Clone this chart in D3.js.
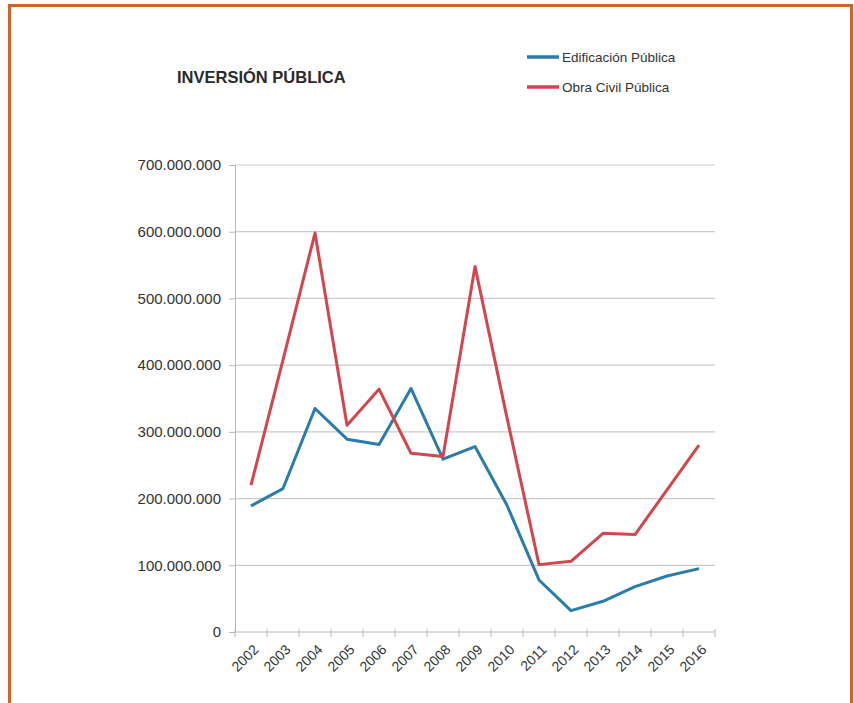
<!DOCTYPE html>
<html>
<head>
<meta charset="utf-8">
<script src="https://cdn.jsdelivr.net/npm/d3@7"></script>
<style>
    body { margin: 0; background: #fff; }
    svg { display: block; }
</style>
</head>
<body>
<div id="chart"></div>
<script>
// data
const years = ["2002", "2003", "2004", "2005", "2006", "2007", "2008", "2009",
    "2010", "2011", "2012", "2013", "2014", "2015", "2016"];
const edificacion = [189e6, 215e6, 335e6, 289e6, 281e6, 365e6, 259e6, 278e6,
    190e6, 78e6, 32e6, 46e6, 68e6, 84e6, 95e6];
const obraCivil = [220e6, 408e6, 598e6, 310e6, 364e6, 268e6, 263e6, 548e6,
    321e6, 101e6, 106e6, 148e6, 146e6, 213e6, 280e6];
const yTicks = [0, 100e6, 200e6, 300e6, 400e6, 500e6, 600e6, 700e6];
const seriesNames = ["Edificación Pública", "Obra Civil Pública"];
const seriesColors = ["#2b7cab", "#d2464f"];

const width = 854, height = 703;
const plotLeft = 235, plotRight = 715, plotTop = 165, plotBottom = 632;

const svg = d3.select("#chart").append("svg")
    .attr("width", width)
    .attr("height", height);

// orange frame
svg.append("rect")
    .attr("x", 9.5).attr("y", 5.5)
    .attr("width", 842).attr("height", 720)
    .attr("fill", "none")
    .attr("stroke", "#cf6529")
    .attr("stroke-width", 3);

const x = d3.scaleBand().domain(years).range([plotLeft, plotRight]);
const y = d3.scaleLinear().domain([0, 700e6]).range([plotBottom, plotTop]);

const fmt = v => v === 0 ? "0" : d3.format(",")(v).replace(/,/g, ".");

// gridlines
svg.append("g")
    .selectAll("line")
    .data(yTicks.filter(d => d > 0))
    .enter().append("line")
    .attr("x1", plotLeft).attr("x2", plotRight)
    .attr("y1", d => y(d)).attr("y2", d => y(d))
    .attr("stroke", "#cbcbcb")
    .attr("stroke-width", 1.2);

// y axis
let yAxis = svg.append("g")
    .attr("transform", "translate(" + plotLeft + ",0)")
    .call(d3.axisLeft(y).tickValues(yTicks).tickFormat(fmt).tickSize(6).tickPadding(8));
yAxis.select(".domain").attr("stroke", "#b8b8b8");
yAxis.selectAll(".tick line").attr("stroke", "#b8b8b8");
yAxis.selectAll("text")
    .attr("font-family", "Liberation Sans, Arial, sans-serif")
    .attr("font-size", 15)
    .attr("fill", "#333");

// x axis, ticks between categories
let xAxis = svg.append("g")
    .attr("transform", "translate(0," + plotBottom + ")");
xAxis.append("line")
    .attr("x1", plotLeft).attr("x2", plotRight)
    .attr("y1", 0).attr("y2", 0)
    .attr("stroke", "#b8b8b8");
xAxis.selectAll(".xt")
    .data(years.concat(["end"]))
    .enter().append("line")
    .attr("x1", (d, i) => plotLeft + i * x.step())
    .attr("x2", (d, i) => plotLeft + i * x.step())
    .attr("y1", -3).attr("y2", 5)
    .attr("stroke", "#b8b8b8");
xAxis.selectAll("text")
    .data(years)
    .enter().append("text")
    .attr("transform", d => "translate(" + (x(d) + x.bandwidth() / 2 + 5) + ",15) rotate(-45)")
    .attr("text-anchor", "end")
    .attr("dy", "0.35em")
    .attr("font-family", "Liberation Sans, Arial, sans-serif")
    .attr("font-size", 14)
    .attr("fill", "#333")
    .text(d => d);

// lines
const line = d3.line()
    .x((d, i) => x(years[i]) + x.bandwidth() / 2)
    .y(d => y(d));

[edificacion, obraCivil].forEach(function (s, i) {
    svg.append("path")
        .attr("d", line(s))
        .attr("fill", "none")
        .attr("stroke", seriesColors[i])
        .attr("stroke-width", 3)
        .attr("stroke-linejoin", "round");
});

// title
svg.append("text")
    .attr("x", 177).attr("y", 83)
    .attr("font-family", "Liberation Sans, Arial, sans-serif")
    .attr("font-weight", "bold")
    .attr("font-size", 16.5)
    .attr("fill", "#2a2a2a")
    .text("INVERSIÓN PÚBLICA");

// legend
let legend = svg.append("g");
seriesNames.forEach(function (name, i) {
    let ly = 57 + i * 30;
    legend.append("line")
        .attr("x1", 527).attr("x2", 559)
        .attr("y1", ly).attr("y2", ly)
        .attr("stroke", seriesColors[i])
        .attr("stroke-width", 3.5);
    legend.append("text")
        .attr("x", 562).attr("y", ly)
        .attr("dy", "0.35em")
        .attr("font-family", "Liberation Sans, Arial, sans-serif")
        .attr("font-size", 13.5)
        .attr("fill", "#333")
        .text(name);
});
</script>
</body>
</html>
